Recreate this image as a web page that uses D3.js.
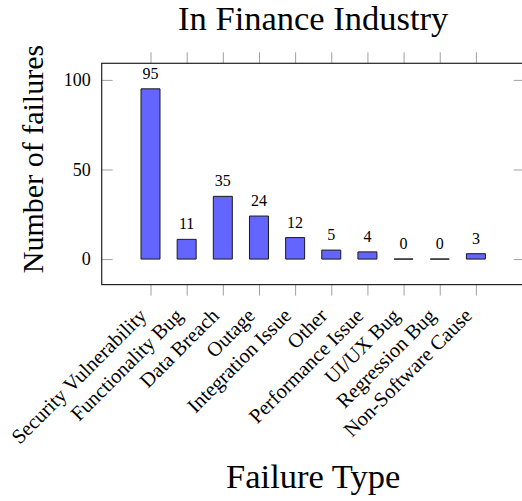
<!DOCTYPE html>
<html>
<head>
<meta charset="utf-8">
<script src="https://cdn.jsdelivr.net/npm/d3@7"></script>
<style>
  body { margin: 0; background: #fff; }
  svg { display: block; font-family: "Liberation Serif", serif; }
</style>
</head>
<body>
<div id="chart"></div>
<script>
// failures per category (finance industry)
var categories = ["Security Vulnerability", "Functionality Bug", "Data Breach", "Outage",
    "Integration Issue", "Other", "Performance Issue", "UI/UX Bug", "Regression Bug", "Non-Software Cause"];
var failures = [95, 11, 35, 24, 12, 5, 4, 0, 0, 3];
var yTicks = [0, 50, 100];

var width = 522,
    height = 501,
    plotLeft = 101.7,
    plotRight = 524.7,
    plotTop = 63.3,
    plotBottom = 284.6,
    barWidth = 19;

var svg = d3.select("#chart").append("svg")
    .attr("width", width)
    .attr("height", height);

var x = d3.scalePoint()
    .domain(categories)
    .range([plotLeft, plotRight])
    .padding(1.35);

// pgfplots style enlarged limits (15% of data range)
var yMax = d3.max(failures);
var y = d3.scaleLinear()
    .domain([-0.15 * yMax, yMax * 1.15])
    .range([plotBottom, plotTop]);

var tickColor = "#a0a0a0";

// ticks
var gl = svg.append("g")
    .attr("transform", "translate(" + plotLeft + ",0)")
    .call(d3.axisLeft(y).tickValues(yTicks).tickSize(-11).tickPadding(11));
var gr = svg.append("g")
    .attr("transform", "translate(" + plotRight + ",0)")
    .call(d3.axisRight(y).tickValues(yTicks).tickSize(-11).tickFormat(""));
var gb = svg.append("g")
    .attr("transform", "translate(0," + plotBottom + ")")
    .call(d3.axisBottom(x).tickSize(11).tickFormat(""));
var gt = svg.append("g")
    .attr("transform", "translate(0," + plotTop + ")")
    .call(d3.axisTop(x).tickSize(11).tickFormat(""));

[gl, gr, gb, gt].forEach(function (g) {
    g.select(".domain").remove();
    g.selectAll(".tick line").attr("stroke", tickColor).attr("stroke-width", 1);
});

gl.selectAll(".tick text")
    .attr("fill", "#000")
    .style("font-family", "Liberation Serif")
    .style("font-size", "18px");

// rotated category labels
svg.append("g").selectAll("text")
    .data(categories)
    .enter().append("text")
    .attr("transform", function (d) {
        return "translate(" + (x(d) - 6) + "," + (plotBottom + 29) + ") rotate(-45)";
    })
    .attr("text-anchor", "end")
    .attr("dominant-baseline", "middle")
    .style("font-size", "20.5px")
    .text(function (d) { return d; });

// frame
svg.append("rect")
    .attr("x", plotLeft)
    .attr("y", plotTop)
    .attr("width", plotRight - plotLeft)
    .attr("height", plotBottom - plotTop)
    .attr("fill", "none")
    .attr("stroke", "#222")
    .attr("stroke-width", 1.2);

// bars (paths so zero-height bars still show a line)
svg.append("g").selectAll("path")
    .data(failures)
    .enter().append("path")
    .attr("d", function (d, i) {
        var cx = x(categories[i]);
        var x0 = cx - barWidth / 2, x1 = cx + barWidth / 2;
        return "M" + x0 + "," + y(0) + "H" + x1 + "V" + y(d) + "H" + x0 + "Z";
    })
    .attr("fill", "#6464ff")
    .attr("stroke", "#1a1a1a")
    .attr("stroke-width", 1);

// value labels
svg.append("g").selectAll("text")
    .data(failures)
    .enter().append("text")
    .attr("x", function (d, i) { return x(categories[i]); })
    .attr("y", function (d) { return y(d) - 10; })
    .attr("text-anchor", "middle")
    .style("font-size", "16px")
    .text(function (d) { return d; });

// title and axis labels
svg.append("text")
    .attr("x", (plotLeft + plotRight) / 2)
    .attr("y", 30)
    .attr("text-anchor", "middle")
    .style("font-size", "34.5px")
    .text("In Finance Industry");

svg.append("text")
    .attr("x", (plotLeft + plotRight) / 2)
    .attr("y", 488)
    .attr("text-anchor", "middle")
    .style("font-size", "34.5px")
    .text("Failure Type");

svg.append("text")
    .attr("transform", "translate(43,159) rotate(-90)")
    .attr("text-anchor", "middle")
    .style("font-size", "30px")
    .text("Number of failures");
</script>
</body>
</html>
